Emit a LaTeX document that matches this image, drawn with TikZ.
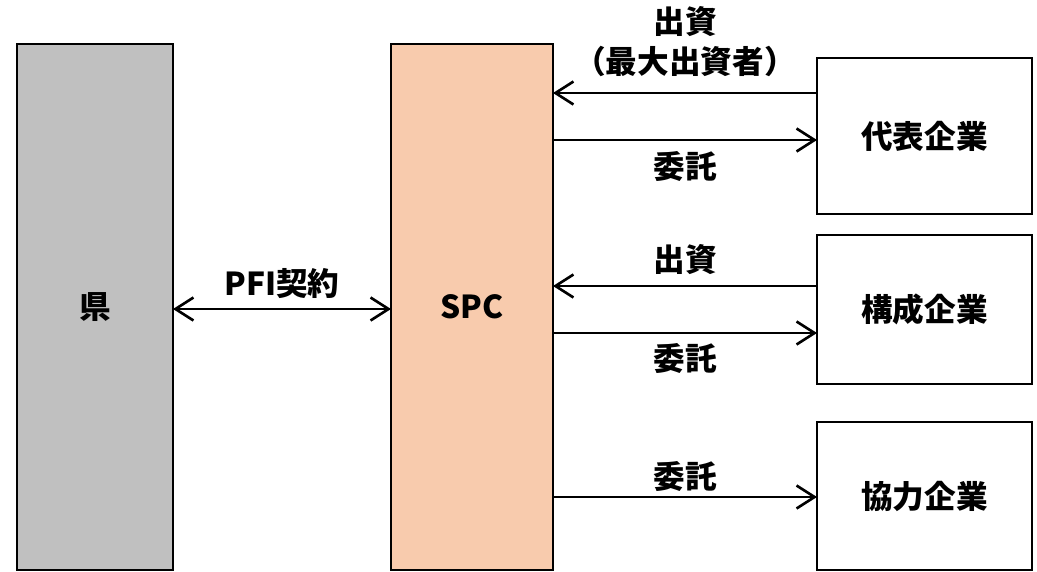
\documentclass[tikz,border=0pt]{standalone}
\usepackage{fontspec}
\setmainfont{Noto Sans CJK JP}
\usetikzlibrary{arrows.meta, positioning, calc}
\usepackage{xcolor}
\definecolor{prefgray}{RGB}{192, 192, 192}
\definecolor{spcpeach}{RGB}{248, 203, 173}

\begin{document}
\begin{tikzpicture}[
        x=0.2mm, y=-0.2mm,
        block/.style={rectangle, draw, line width=0.8pt, anchor=north west,
                      outer sep=0pt, font=\fontsize{18}{22}\selectfont\bfseries},
        company/.style={block, fill=white, minimum width=43mm},
        arrow/.style={-{Straight Barb[length=3.6mm, width=4.6mm]}, line width=1.5pt},
        twoway/.style={{Straight Barb[length=3.6mm, width=4.6mm]}-{Straight Barb[length=3.6mm, width=4.6mm]}, line width=1.5pt},
        tag/.style={font=\fontsize{18}{22.7}\selectfont\bfseries, align=center, inner sep=0pt},
    ]
        \useasboundingbox (0,0) rectangle (1037,572);

        % main blocks
        \node[block, fill=prefgray, minimum width=31.2mm, minimum height=105.2mm] (pref) at (17,44) {県};
        \node[block, fill=spcpeach, minimum width=32.4mm, minimum height=105.2mm] (spc) at (391,44) {SPC};

        % companies
        \node[company, minimum height=31.2mm] (rep) at (817,58) {代表企業};
        \node[company, minimum height=29.8mm] (mem) at (817,235) {構成企業};
        \node[company, minimum height=29.6mm] (coop) at (817,422) {協力企業};

        % contract
        \draw[twoway] ([yshift=-0.4mm]pref.east) -- ([yshift=-0.4mm]pref.east -| spc.west)
            node[tag, midway, yshift=5.1mm] (pfi) {PFI契約};

        % representative company
        \draw[arrow] ([yshift=8.6mm]rep.west) -- ([yshift=8.6mm]rep.west -| spc.east)
            node[tag, midway, yshift=10.2mm] (inv1) {出資\\（最大出資者）};
        \draw[arrow] ([yshift=-0.8mm]rep.west -| spc.east) -- ([yshift=-0.8mm]rep.west)
            node[tag, midway, yshift=-5.2mm] (ent1) {委託};

        % member company
        \draw[arrow] ([yshift=4.7mm]mem.west) -- ([yshift=4.7mm]mem.west -| spc.east)
            node[tag, midway, yshift=5.2mm] (inv2) {出資};
        \draw[arrow] ([yshift=-4.7mm]mem.west -| spc.east) -- ([yshift=-4.7mm]mem.west)
            node[tag, midway, yshift=-5mm] (ent2) {委託};

        % cooperating company
        \draw[arrow] ([yshift=-0.2mm]coop.west -| spc.east) -- ([yshift=-0.2mm]coop.west)
            node[tag, midway, yshift=4.2mm] (ent3) {委託};
    \end{tikzpicture}
\end{document}
